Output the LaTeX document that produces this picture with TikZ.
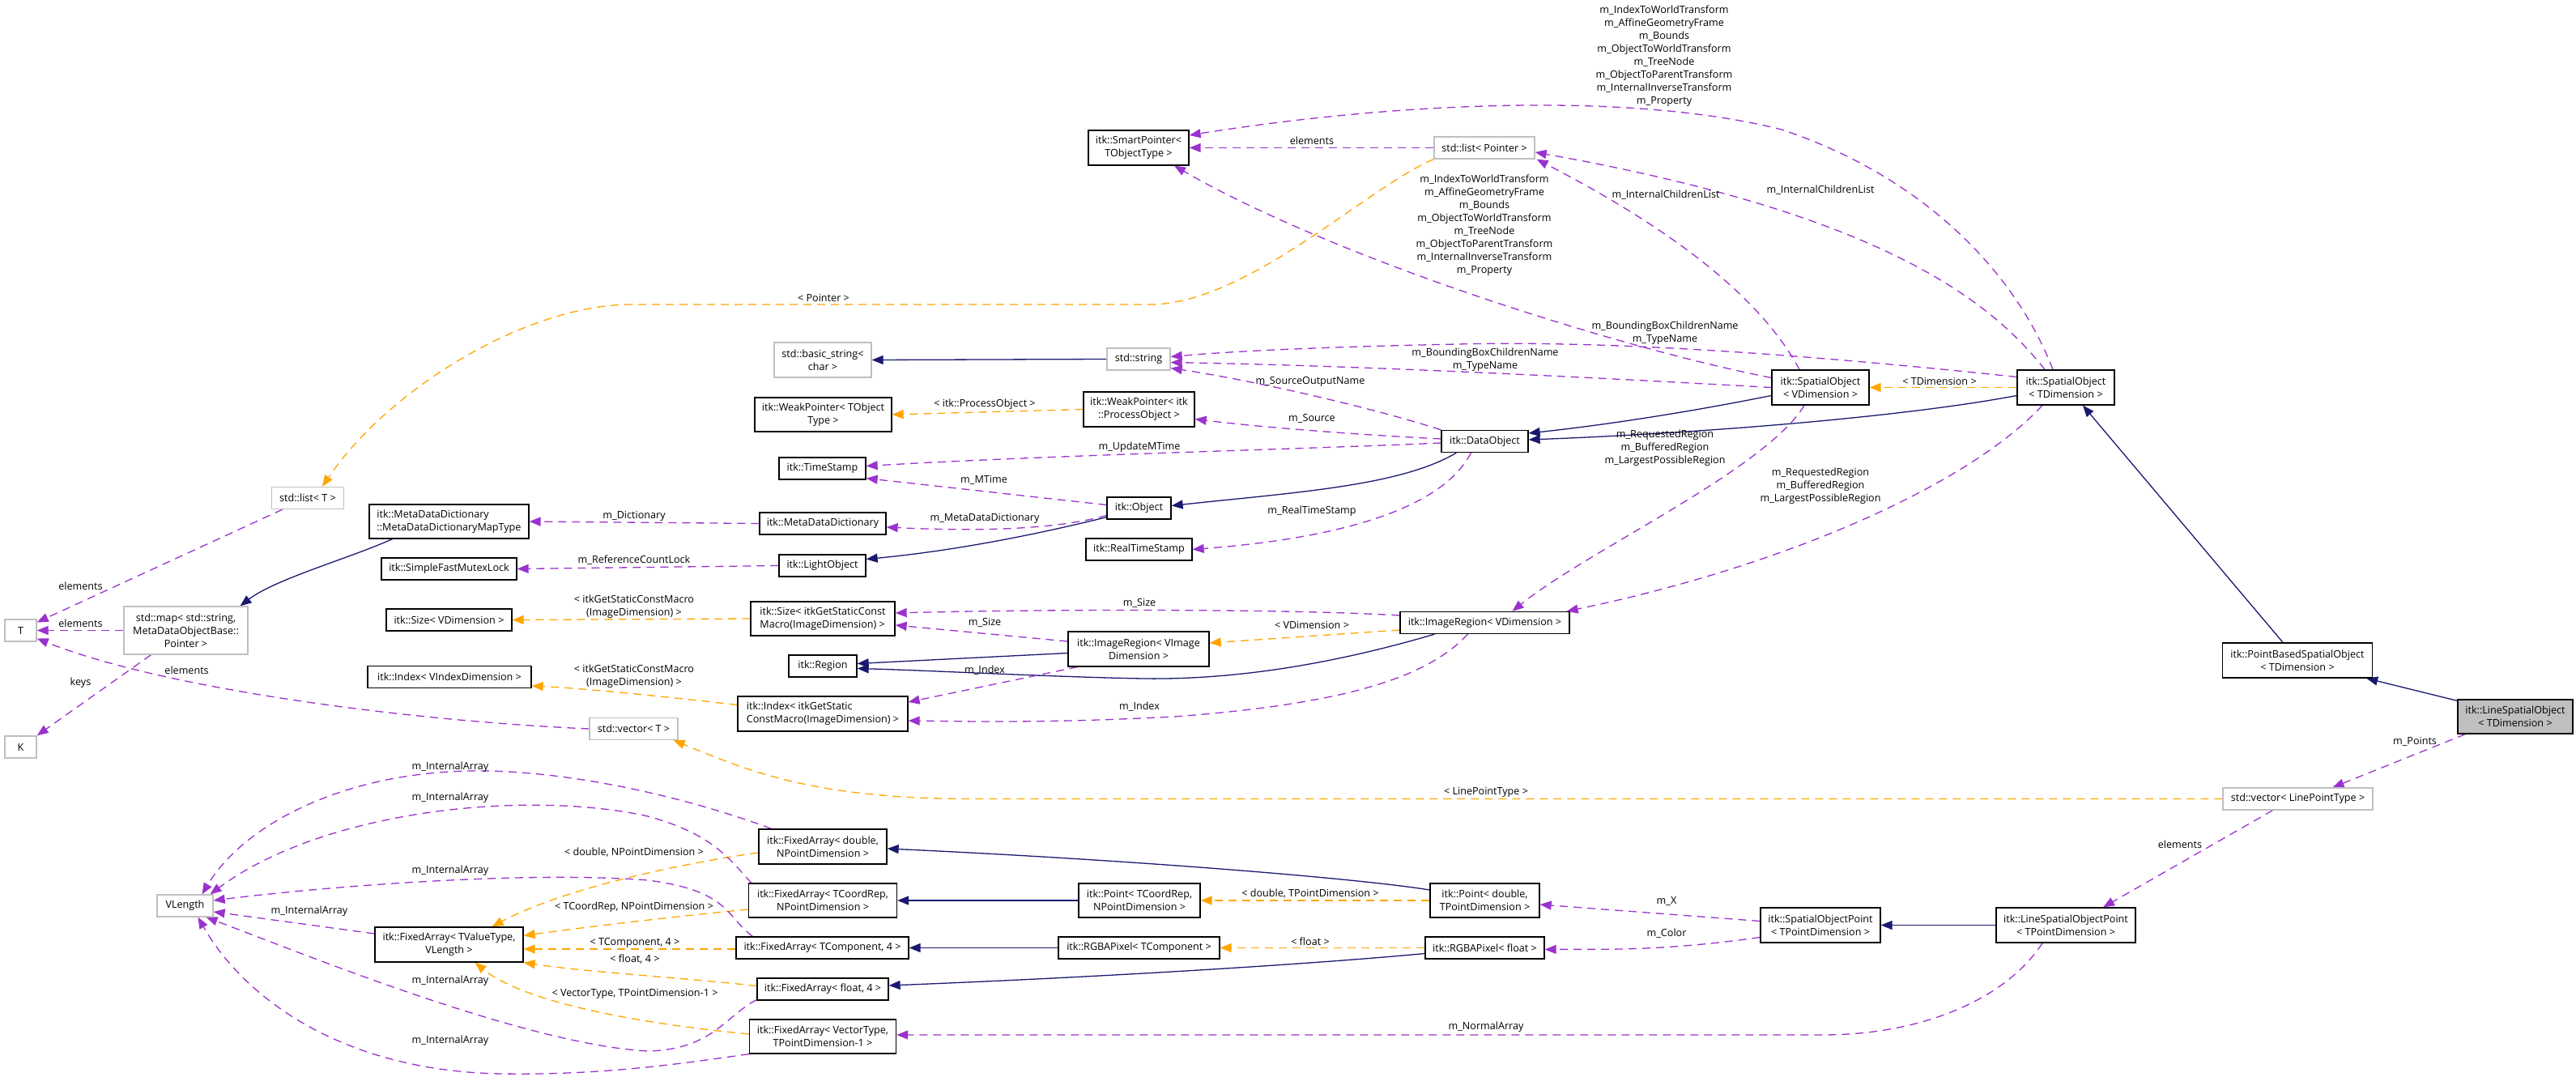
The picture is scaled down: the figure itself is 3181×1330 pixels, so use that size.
\documentclass[tikz,border=0pt]{standalone}
\usepackage{fontspec}
\setmainfont{Open Sans}
\usetikzlibrary{arrows.meta,calc}
\pgfdeclarelayer{background}
\pgfsetlayers{background,main}
\definecolor{navyc}{HTML}{191970}
\definecolor{purpc}{HTML}{9A32CD}
\definecolor{orngc}{HTML}{FFA500}
\definecolor{greyc}{HTML}{BFBFBF}
\newcommand{\dxf}{\fontsize{12.6}{16}\selectfont}
\tikzset{
  cbox/.style={draw=black, line width=1.3pt, fill=white, inner sep=0pt, align=center, font=\dxf},
  gcbox/.style={cbox, draw=greyc},
  elbl/.style={inner sep=0pt, align=center, font=\dxf},
  ahead/.style={-{Triangle[length=14pt,width=11pt]}},
  edgeinh/.style={draw=navyc, line width=1.3pt, ahead},
  edgeuse/.style={draw=purpc, line width=1.3pt, dash pattern=on 10pt off 7pt, ahead},
  edgetpl/.style={draw=orngc, line width=1.3pt, dash pattern=on 10pt off 7pt, ahead},
}
\begin{document}
\begin{tikzpicture}[x=1pt,y=-1pt]
\useasboundingbox (0,0) rectangle (3181,1330);
% ---------------- nodes ----------------
\node[cbox, minimum width=124pt, minimum height=43pt] (SP) at (1406,182.5) {itk::SmartPointer<\\TObjectType >};
\node[gcbox, minimum width=124pt, minimum height=27pt] (LP) at (1833,182.5) {std::list< Pointer >};
\node[cbox, minimum width=120pt, minimum height=43pt] (SOV) at (2248,478.5) {itk::SpatialObject\\< VDimension >};
\node[cbox, minimum width=120pt, minimum height=43pt] (SOT) at (2551,478.5) {itk::SpatialObject\\< TDimension >};
\node[gcbox, minimum width=120pt, minimum height=43pt] (BS) at (1016,444.5) {std::basic\_string<\\char >};
\node[gcbox, minimum width=78pt, minimum height=27pt] (STR) at (1406,443.5) {std::string};
\node[cbox, minimum width=169pt, minimum height=42pt] (WPT) at (1016.5,512) {itk::WeakPointer< TObject\\Type >};
\node[cbox, minimum width=137pt, minimum height=43pt] (WPP) at (1406.5,505.5) {itk::WeakPointer< itk\\::ProcessObject >};
\node[cbox, minimum width=107pt, minimum height=27pt] (DO) at (1833.5,545) {itk::DataObject};
\node[cbox, minimum width=107pt, minimum height=27pt] (TS) at (1015.5,578.5) {itk::TimeStamp};
\node[cbox, minimum width=79pt, minimum height=27pt] (OBJ) at (1406.5,627.5) {itk::Object};
\node[cbox, minimum width=131pt, minimum height=27pt] (RTS) at (1406.5,678.5) {itk::RealTimeStamp};
\node[cbox, minimum width=156pt, minimum height=27pt] (MDD) at (1016,646.5) {itk::MetaDataDictionary};
\node[cbox, minimum width=107pt, minimum height=27pt] (LO) at (1015.5,698.5) {itk::LightObject};
\node[cbox, align=left, minimum width=197pt, minimum height=42pt] (MT) at (554.5,644) {itk::MetaDataDictionary\\::MetaDataDictionaryMapType};
\node[cbox, minimum width=167pt, minimum height=27pt] (SFML) at (554.5,702.5) {itk::SimpleFastMutexLock};
\node[cbox, minimum width=155pt, minimum height=27pt] (SZV) at (554.5,765.5) {itk::Size< VDimension >};
\node[cbox, minimum width=202pt, minimum height=27pt] (IXV) at (555,836) {itk::Index< VIndexDimension >};
\node[gcbox, minimum width=89pt, minimum height=27pt] (LT) at (380,615) {std::list< T >};
\node[gcbox, minimum width=39pt, minimum height=27pt] (T) at (25.5,778.5) {T};
\node[gcbox, minimum width=153pt, minimum height=59pt] (MAP) at (229.5,778.5) {std::map< std::string,\\MetaDataObjectBase::\\Pointer >};
\node[gcbox, minimum width=39pt, minimum height=27pt] (K) at (25.5,922.5) {K};
\node[cbox, align=left, minimum width=178pt, minimum height=42pt] (SZM) at (1016,764) {itk::Size< itkGetStaticConst\\Macro(ImageDimension) >};
\node[cbox, minimum width=174pt, minimum height=43pt] (IRVI) at (1406,801.5) {itk::ImageRegion< VImage\\Dimension >};
\node[cbox, minimum width=84pt, minimum height=27pt] (REG) at (1016,822.5) {itk::Region};
\node[cbox, align=left, minimum width=210pt, minimum height=43pt] (IXM) at (1016,881.5) {itk::Index< itkGetStatic\\ConstMacro(ImageDimension) >};
\node[cbox, minimum width=209pt, minimum height=27pt] (IRV) at (1833.5,769) {itk::ImageRegion< VDimension >};
\node[gcbox, minimum width=109pt, minimum height=27pt] (VT) at (782.5,900) {std::vector< T >};
\node[cbox, minimum width=185pt, minimum height=43pt] (PB) at (2837,815.5) {itk::PointBasedSpatialObject\\< TDimension >};
\node[cbox, fill=greyc, minimum width=142pt, minimum height=42pt] (LSO) at (3106,885) {itk::LineSpatialObject\\< TDimension >};
\node[gcbox, minimum width=185pt, minimum height=27pt] (VLP) at (2837.5,986.5) {std::vector< LinePointType >};
\node[cbox, minimum width=172pt, minimum height=43pt] (LSOP) at (2551,1142.5) {itk::LineSpatialObjectPoint\\< TPointDimension >};
\node[cbox, minimum width=148pt, minimum height=43pt] (SOP) at (2248,1142.5) {itk::SpatialObjectPoint\\< TPointDimension >};
\node[cbox, minimum width=135pt, minimum height=42pt] (PD) at (1833.5,1112) {itk::Point< double,\\TPointDimension >};
\node[cbox, minimum width=147pt, minimum height=27pt] (RF) at (1833.5,1170.5) {itk::RGBAPixel< float >};
\node[cbox, minimum width=150pt, minimum height=42pt] (PTC) at (1407,1112) {itk::Point< TCoordRep,\\NPointDimension >};
\node[cbox, minimum width=199pt, minimum height=27pt] (RTC) at (1406.5,1170.5) {itk::RGBAPixel< TComponent >};
\node[cbox, minimum width=158pt, minimum height=43pt] (FAD) at (1016,1045.5) {itk::FixedArray< double,\\NPointDimension >};
\node[cbox, minimum width=183pt, minimum height=42pt] (FATC) at (1016,1112) {itk::FixedArray< TCoordRep,\\NPointDimension >};
\node[cbox, minimum width=213pt, minimum height=27pt] (FACO) at (1015.5,1170.5) {itk::FixedArray< TComponent, 4 >};
\node[cbox, minimum width=162pt, minimum height=27pt] (FAF) at (1016,1221.5) {itk::FixedArray< float, 4 >};
\node[cbox, minimum width=181pt, minimum height=42pt] (FAVT) at (1016,1280) {itk::FixedArray< VectorType,\\TPointDimension-1 >};
\node[gcbox, minimum width=69pt, minimum height=27pt] (VL) at (228.5,1118.5) {VLength};
\node[cbox, minimum width=183pt, minimum height=43pt] (FATV) at (554.5,1166.5) {itk::FixedArray< TValueType,\\VLength >};
% ---------------- labels ----------------
\node[elbl] (l1) at (2055,68.7) {m\_IndexToWorldTransform\\m\_AffineGeometryFrame\\m\_Bounds\\m\_ObjectToWorldTransform\\m\_TreeNode\\m\_ObjectToParentTransform\\m\_InternalInverseTransform\\m\_Property};
\node[elbl] (l2) at (1620,174) {elements};
\node[elbl] (l3) at (2248,235) {m\_InternalChildrenList};
\node[elbl] (l4) at (1833,278.5) {m\_IndexToWorldTransform\\m\_AffineGeometryFrame\\m\_Bounds\\m\_ObjectToWorldTransform\\m\_TreeNode\\m\_ObjectToParentTransform\\m\_InternalInverseTransform\\m\_Property};
\node[elbl] (l5) at (2057,241) {m\_InternalChildrenList};
\node[elbl] (l6) at (1017,368) {< Pointer >};
\node[elbl] (l7) at (99.5,724) {elements};
\node[elbl] (l8) at (99.5,770) {elements};
\node[elbl] (l9) at (99.5,843) {keys};
\node[elbl] (l10) at (230.6,828) {elements};
\node[elbl] (l11) at (783,637) {m\_Dictionary};
\node[elbl] (l12) at (783,692) {m\_ReferenceCountLock};
\node[elbl] (l13) at (783,749) {< itkGetStaticConstMacro\\(ImageDimension) >};
\node[elbl] (l14) at (783,835) {< itkGetStaticConstMacro\\(ImageDimension) >};
\node[elbl] (l15) at (1618,471) {m\_SourceOutputName};
\node[elbl] (l16) at (1620,517) {m\_Source};
\node[elbl] (l17) at (1407,552) {m\_UpdateMTime};
\node[elbl] (l18) at (1215,593) {m\_MTime};
\node[elbl] (l19) at (1216,640) {m\_MetaDataDictionary};
\node[elbl] (l20) at (1620,631) {m\_RealTimeStamp};
\node[elbl] (l21) at (1834,444) {m\_BoundingBoxChildrenName\\m\_TypeName};
\node[elbl] (l22) at (2056,411) {m\_BoundingBoxChildrenName\\m\_TypeName};
\node[elbl] (l23) at (2395,471) {< TDimension >};
\node[elbl] (l24) at (1216,499) {< itk::ProcessObject >};
\node[elbl] (l25) at (1407,745) {m\_Size};
\node[elbl] (l26) at (1216,769) {m\_Size};
\node[elbl] (l27) at (1216,828) {m\_Index};
\node[elbl] (l28) at (1407,873) {m\_Index};
\node[elbl] (l29) at (1620,772) {< VDimension >};
\node[elbl] (l30) at (2056,553) {m\_RequestedRegion\\m\_BufferedRegion\\m\_LargestPossibleRegion};
\node[elbl] (l31) at (2248,600) {m\_RequestedRegion\\m\_BufferedRegion\\m\_LargestPossibleRegion};
\node[elbl] (l32) at (2982,916) {m\_Points};
\node[elbl] (l33) at (1835,978) {< LinePointType >};
\node[elbl] (l34) at (2692,1043) {elements};
\node[elbl] (l35) at (1835,1268) {m\_NormalArray};
\node[elbl] (l36) at (2058,1113) {m\_X};
\node[elbl] (l37) at (2058,1153) {m\_Color};
\node[elbl] (l38) at (1618,1104) {< double, TPointDimension >};
\node[elbl] (l39) at (1618,1163) {< float >};
\node[elbl] (l40) at (783,1053) {< double, NPointDimension >};
\node[elbl] (l41) at (783,1120) {< TCoordRep, NPointDimension >};
\node[elbl] (l42) at (784,1164) {< TComponent, 4 >};
\node[elbl] (l43) at (784,1184) {< float, 4 >};
\node[elbl] (l44) at (784,1227) {< VectorType, TPointDimension-1 >};
\node[elbl] (l45) at (382,1125) {m\_InternalArray};
\node[elbl] (l46) at (556,947) {m\_InternalArray};
\node[elbl] (l47) at (556,985) {m\_InternalArray};
\node[elbl] (l48) at (556,1075) {m\_InternalArray};
\node[elbl] (l49) at (556,1211) {m\_InternalArray};
\node[elbl] (l50) at (556,1285) {m\_InternalArray};
% ---------------- edges ----------------
\begin{pgfonlayer}{background}
\draw[edgeuse] ($(SOT.north)+(-16,0)$) .. controls (2490,340) and (2380,220) .. (2200,160) .. controls (2000,110) and (1700,130) .. ($(SP.east)+(0,-15.5)$);
\draw[edgeuse] ($(SOT.north)+(-26,0)$) .. controls (2450,360) and (2300,260) .. ($(LP.east)+(0,5.5)$);
\draw[edgeuse] ($(SOV.west)+(0,-12)$) .. controls (2000,430) and (1650,320) .. ($(SP.south)+(44,0)$);
\draw[edgeuse] ($(SOV.north)+(-26,0)$) .. controls (2160,340) and (2000,250) .. ($(LP.south east)+(2,0)$);
\draw[edgeuse] (LP.west) -- (SP.east);
\draw[edgetpl] (LP.south west) .. controls (1690,230) and (1540,376) .. (1420,376) -- (780,376) .. controls (650,376) and (480,480) .. ($(LT.north)+(18,0)$);
\draw[edgeuse] ($(LT.south west)+(14,0)$) -- ($(T.east)+(0,-10)$);
\draw[edgeuse] (MAP.west) -- (T.east);
\draw[edgeuse] ($(MAP.south)+(-43,0)$) -- (K.north east);
\draw[edgeuse] (VT.west) .. controls (500,890) and (200,850) .. ($(T.east)+(0,10)$);
\draw[edgeinh] ($(MT.south)+(-70,0)$) .. controls (430,690) and (340,715) .. ($(MAP.north)+(67,0)$);
\draw[edgeuse] (MDD.west) -- (MT.east);
\draw[edgeuse] (LO.west) -- (SFML.east);
\draw[edgetpl] (SZM.west) -- (SZV.east);
\draw[edgetpl] ($(IXM.west)+(0,-11)$) .. controls (820,860) and (720,850) .. ($(IXV.east)+(0,11)$);
\draw[edgeinh] (STR.west) -- (BS.east);
\draw[edgetpl] (WPP.west) -- (WPT.east);
\draw[edgeuse] (DO.north west) .. controls (1700,505) and (1550,470) .. ($(STR.south east)+(0,-3)$);
\draw[edgeuse] ($(DO.west)+(0,-3)$) .. controls (1680,537) and (1560,528) .. ($(WPP.east)+(0,12)$);
\draw[edgeuse] ($(DO.west)+(0,2)$) .. controls (1600,555) and (1300,562) .. ($(TS.east)+(0,-3)$);
\draw[edgeuse] ($(OBJ.west)+(0,-4)$) -- ($(TS.south east)+(0,-2)$);
\draw[edgeuse] ($(OBJ.west)+(0,9)$) .. controls (1300,655) and (1200,656) .. ($(MDD.east)+(0,4.5)$);
\draw[edgeuse] ($(DO.south)+(-17,0)$) .. controls (1780,630) and (1650,665) .. (RTS.east);
\draw[edgeuse] (SOV.west) .. controls (2000,468) and (1700,452) .. ($(STR.east)+(0,4)$);
\draw[edgeuse] ($(SOT.west)+(0,-13)$) .. controls (2250,440) and (2000,420) .. (1800,425) .. controls (1650,428) and (1530,433) .. ($(STR.east)+(0,-3)$);
\draw[edgetpl] (SOT.west) -- (SOV.east);
\draw[edgeinh] ($(SOV.west)+(0,10)$) .. controls (2080,510) and (1980,525) .. ($(DO.east)+(0,-10)$);
\draw[edgeinh] ($(SOT.west)+(0,10)$) .. controls (2350,515) and (2100,535) .. ($(DO.east)+(0,-2)$);
\draw[edgeinh] ($(DO.south west)+(19,0)$) .. controls (1730,600) and (1600,608) .. ($(OBJ.east)+(0,-3)$);
\draw[edgeinh] ($(OBJ.south west)+(0,-3)$) .. controls (1280,660) and (1180,680) .. ($(LO.east)+(0,-8)$);
\draw[edgeinh] ($(IRVI.west)+(0,5)$) -- ($(REG.east)+(0,-3)$);
\draw[edgeinh] ($(IRV.south)+(-62,0)$) .. controls (1680,810) and (1550,840) .. (1412,838) .. controls (1300,836) and (1150,828) .. ($(REG.east)+(0,3)$);
\draw[edgetpl] ($(IRV.west)+(0,9)$) -- ($(IRVI.east)+(0,-7.5)$);
\draw[edgeuse] ($(IRV.west)+(0,-9)$) .. controls (1600,752) and (1300,752) .. ($(SZM.east)+(0,-7)$);
\draw[edgeuse] ($(IRVI.west)+(0,-9.5)$) -- ($(SZM.east)+(0,8)$);
\draw[edgeuse] ($(IRVI.south west)+(12,0)$) -- ($(IXM.east)+(0,-14.5)$);
\draw[edgeuse] ($(IRV.south)+(-21,0)$) .. controls (1760,840) and (1650,870) .. (1450,885) .. controls (1300,893) and (1200,891) .. ($(IXM.east)+(0,8.5)$);
\draw[edgeuse] ($(SOT.south)+(-29,0)$) .. controls (2430,600) and (2200,700) .. ($(IRV.north east)+(-4,0)$);
\draw[edgeuse] ($(SOV.south)+(-20,0)$) .. controls (2180,580) and (1960,680) .. ($(IRV.north)+(34,0)$);
\draw[edgeinh] ($(PB.north)+(-18,0)$) -- ($(SOT.south)+(21,0)$);
\draw[edgeinh] ($(LSO.north west)+(0,2)$) -- ($(PB.south east)+(-8,0)$);
\draw[edgeuse] ($(LSO.south west)+(10,0)$) -- ($(VLP.north)+(43,0)$);
\draw[edgetpl] (VLP.west) -- (1200,986.5) .. controls (1000,986.5) and (920,950) .. ($(VT.south east)+(-6,0)$);
\draw[edgeuse] ($(VLP.south)+(-31,0)$) -- ($(LSOP.north)+(46,0)$);
\draw[edgeinh] (LSOP.west) -- (SOP.east);
\draw[edgeuse] ($(LSOP.south)+(-29,0)$) .. controls (2480,1230) and (2380,1278) .. (2250,1278) -- ($(FAVT.east)+(0,-2)$);
\draw[edgeuse] ($(SOP.west)+(0,-5)$) -- ($(PD.east)+(0,5)$);
\draw[edgeuse] ($(SOP.west)+(0,15)$) .. controls (2050,1175) and (1980,1172) .. ($(RF.east)+(0,2)$);
\draw[edgetpl] (PD.west) -- (PTC.east);
\draw[edgetpl] (RF.west) -- (RTC.east);
\draw[edgeinh] ($(PD.west)+(0,-13)$) .. controls (1680,1085) and (1400,1062) .. ($(FAD.east)+(0,2.5)$);
\draw[edgeinh] ($(RF.west)+(0,7)$) .. controls (1650,1188) and (1400,1205) .. ($(FAF.east)+(0,-4.5)$);
\draw[edgeinh] (PTC.west) -- (FATC.east);
\draw[edgeinh] (RTC.west) -- (FACO.east);
\draw[edgetpl] ($(FAD.west)+(0,7.5)$) .. controls (850,1065) and (700,1095) .. ($(FATV.north)+(53,0)$);
\draw[edgetpl] ($(FATC.west)+(0,11)$) .. controls (850,1130) and (720,1145) .. ($(FATV.east)+(0,-11)$);
\draw[edgetpl] ($(FACO.west)+(0,1.5)$) -- ($(FATV.east)+(0,5.5)$);
\draw[edgetpl] ($(FAF.west)+(0,-4)$) .. controls (850,1208) and (720,1200) .. (FATV.south east);
\draw[edgetpl] ($(FAVT.west)+(0,-3)$) .. controls (800,1265) and (650,1240) .. ($(FATV.south)+(32,0)$);
\draw[edgeuse] ($(FATV.west)+(0,-13.5)$) -- ($(VL.east)+(0,7.5)$);
\draw[edgeuse] ($(FAD.north west)+(16,0)$) .. controls (850,985) and (700,950) .. (580,952) .. controls (420,955) and (300,1020) .. ($(VL.north)+(21,0)$);
\draw[edgeuse] ($(FATC.north west)+(4,0)$) .. controls (900,1060) and (880,1030) .. (800,1008) .. controls (650,975) and (400,1000) .. ($(VL.north)+(31,0)$);
\draw[edgeuse] ($(FACO.north west)+(21,0)$) .. controls (895,1130) and (900,1100) .. (800,1087) .. controls (650,1075) and (400,1095) .. ($(VL.east)+(0,-6.5)$);
\draw[edgeuse] ($(FAF.south west)+(0,-1)$) .. controls (895,1255) and (880,1296) .. (800,1298) .. controls (650,1290) and (380,1180) .. ($(VL.south)+(26,0)$);
\draw[edgeuse] (FAVT.south west) .. controls (850,1312) and (750,1328) .. (620,1326) .. controls (420,1323) and (300,1230) .. ($(VL.south)+(16,0)$);
\end{pgfonlayer}
\end{tikzpicture}
\end{document}
